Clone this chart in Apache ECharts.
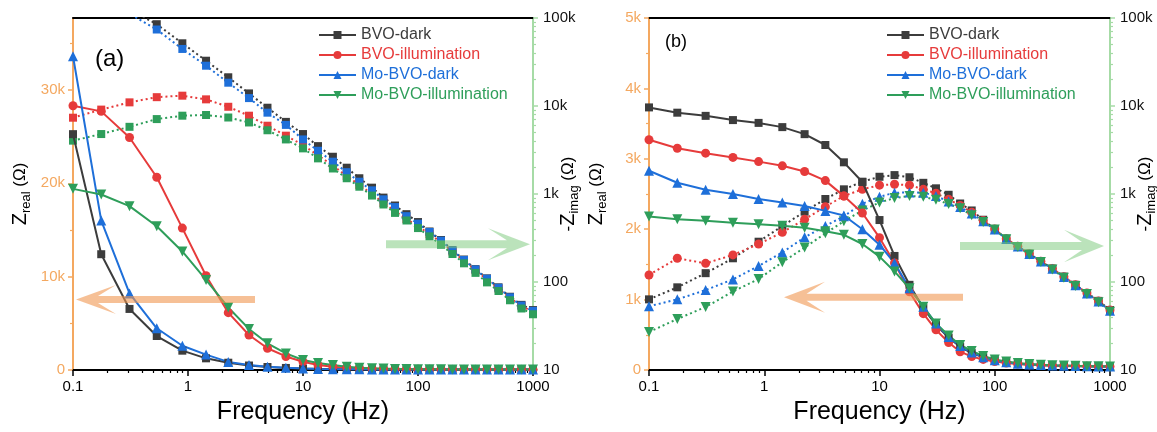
<!DOCTYPE html>
<html><head><meta charset="utf-8">
<script src="https://cdn.jsdelivr.net/npm/echarts@6/dist/echarts.min.js"></script>
<style>html,body{margin:0;padding:0;background:#fff}#c{width:1157px;height:432px}</style>
</head><body><div id="c"></div>
<script>
// ---- data ----
const freq = [0.1, 0.176, 0.31, 0.535, 0.893, 1.435, 2.24, 3.39, 4.91, 7.1,
  10, 13.5, 18.2, 24, 30.9, 39.8, 50.1, 63.1, 79.4, 100,
  125.9, 158.5, 199.5, 251.2, 316.2, 398.1, 501.2, 631, 794.3, 1000];
const seriesNames = ['BVO-dark', 'BVO-illumination', 'Mo-BVO-dark', 'Mo-BVO-illumination'];

// panel (a): Z_real
const aBvoDarkRe = [25260, 12400, 6540, 3640, 2070, 1250, 780, 480, 320, 220, 160, 125, 105, 90, 80, 72, 66, 62, 58, 56, 54, 52, 51, 50, 49, 48, 48, 47, 47, 46];
const aBvoIllRe = [28300, 27700, 24900, 20650, 15200, 10100, 6140, 3750, 2330, 1450, 890, 540, 360, 250, 190, 150, 120, 100, 85, 75, 68, 62, 58, 55, 53, 51, 50, 49, 48, 47];
const aMoDarkRe = [33600, 16000, 8200, 4470, 2600, 1650, 870, 540, 360, 230, 150, 110, 90, 78, 70, 64, 60, 57, 55, 53, 52, 51, 50, 49, 48, 48, 47, 47, 46, 46];
const aMoIllRe = [19400, 18800, 17550, 15400, 12700, 9650, 6700, 4400, 2860, 1780, 1070, 760, 540, 360, 250, 190, 150, 120, 100, 85, 75, 68, 62, 58, 55, 53, 51, 50, 49, 48];
// panel (a): -Z_imag
const aBvoDarkIm = [450000, 230000, 125000, 85000, 51600, 32700, 21200, 13900, 9560, 6600, 4800, 3500, 2650, 1990, 1510, 1180, 910, 740, 590, 480, 375, 300, 230, 180, 140, 110, 87, 68, 55, 48];
const aBvoIllIm = [7360, 9100, 11000, 12600, 13100, 11900, 9800, 7760, 5970, 4600, 3600, 2750, 2100, 1600, 1270, 1000, 790, 640, 520, 430, 350, 285, 222, 174, 136, 106, 84, 66, 53, 46];
const aMoDarkIm = [380000, 200000, 112000, 74000, 44500, 28700, 18400, 12300, 8400, 6100, 4170, 3100, 2330, 1770, 1380, 1100, 870, 710, 560, 460, 370, 295, 228, 178, 139, 109, 86, 67, 54, 47];
const aMoIllIm = [4040, 4800, 5800, 7100, 7760, 7900, 7400, 6500, 5300, 4170, 3300, 2540, 1950, 1510, 1210, 960, 760, 610, 500, 410, 330, 265, 208, 163, 127, 99, 79, 62, 50, 43];

// panel (b): Z_real
const bBvoDarkRe = [3730, 3655, 3610, 3550, 3510, 3450, 3350, 3196, 2950, 2670, 2130, 1620, 1210, 880, 640, 460, 330, 240, 180, 140, 110, 90, 78, 70, 64, 60, 56, 53, 50, 48];
const bBvoIllRe = [3270, 3150, 3080, 3020, 2960, 2900, 2820, 2690, 2470, 2230, 1880, 1520, 1110, 800, 570, 390, 260, 190, 150, 120, 100, 85, 75, 68, 62, 58, 55, 52, 50, 48];
const bMoDarkRe = [2830, 2660, 2560, 2500, 2430, 2380, 2330, 2260, 2195, 2000, 1780, 1520, 1160, 900, 660, 470, 340, 250, 180, 140, 110, 90, 78, 70, 64, 60, 56, 53, 50, 48];
const bMoIllRe = [2180, 2140, 2120, 2090, 2070, 2050, 2020, 1970, 1920, 1790, 1610, 1400, 1160, 900, 660, 490, 355, 270, 200, 150, 120, 98, 84, 75, 68, 63, 59, 55, 52, 50];
// panel (b): -Z_imag
const bBvoDarkIm = [63.5, 87, 126, 186, 287, 432, 630, 877, 1130, 1380, 1570, 1640, 1550, 1340, 1160, 980, 780, 650, 510, 400, 310, 255, 210, 172, 142, 115, 93, 75, 61, 48];
const bBvoIllIm = [120, 186, 163, 203, 270, 367, 515, 718, 950, 1130, 1260, 1290, 1260, 1130, 1020, 870, 740, 620, 500, 400, 310, 255, 210, 172, 142, 115, 93, 75, 61, 48];
const bMoDarkIm = [53, 63.5, 81, 107, 152, 217, 322, 433, 560, 775, 930, 1035, 1040, 1035, 950, 820, 710, 600, 490, 395, 308, 253, 208, 171, 141, 114, 92, 74, 60, 47];
const bMoIllIm = [27, 38, 52, 78, 108, 168, 246, 357, 490, 650, 800, 900, 950, 930, 860, 770, 690, 575, 480, 395, 306, 250, 206, 169, 139, 112, 90, 73, 59, 46];

// ---- tick values ----
const leftTicksA = [0, 10000, 20000, 30000];
const leftMinorA = [5000, 15000, 25000, 35000];
const leftMaxA = 37700;
const leftTicksB = [0, 1000, 2000, 3000, 4000, 5000];
const leftMinorB = [500, 1500, 2500, 3500, 4500];
const leftMaxB = 5000;
const xMinorTicks = [];
[0.1, 1, 10, 100].forEach(d => { for (let k = 2; k <= 9; k++) xMinorTicks.push(+(k * d).toPrecision(3)); });
const yMinorTicks = [];
[10, 100, 1000, 10000].forEach(d => { for (let k = 2; k <= 9; k++) yMinorTicks.push(k * d); });

// ---- styles ----
const COL = ['#3c3c3c', '#e63b3b', '#1e6fd9', '#2e9e5a'];
const SYM = ['rect', 'circle', 'triangle', 'triangle'];
const ROT = [0, 0, 0, 180];
const ORANGE = '#f4a860';
const GREEN_AX = '#a6dba6';
const FONT = 'Arial';

const nameRich = {
  b: { fontSize: 20, lineHeight: 26, color: '#000', fontFamily: FONT },
  s: { fontSize: 13, lineHeight: 14, verticalAlign: 'bottom', color: '#000', fontFamily: FONT },
  u: { fontSize: 17, lineHeight: 26, color: '#000', fontFamily: FONT }
};

const kfmt = v => { v = +v; if (v === 0) return '0'; return v >= 1000 ? (+(v / 1000).toPrecision(3)) + 'k' : String(+v.toPrecision(3)); };

function xAxes(g) {
  return [
    { type: 'log', gridIndex: g, min: 0.1, max: 1000, position: 'bottom',
      axisLine: { onZero: false, lineStyle: { color: '#000', width: 2 } },
      axisTick: { show: true, length: 6, lineStyle: { color: '#000', width: 1.5 } },
      axisLabel: { color: '#000', fontSize: 15, fontFamily: FONT, margin: 9, formatter: v => String(+(+v).toPrecision(3)) },
      splitLine: { show: false }, minorTick: { show: false },
      name: 'Frequency (Hz)', nameLocation: 'middle', nameGap: 30, nameMoveOverlap: false,
      nameTextStyle: { fontSize: 25, color: '#000', fontFamily: FONT } },
    { type: 'log', gridIndex: g, min: 0.1, max: 1000, position: 'bottom',
      axisLine: { show: false, onZero: false },
      axisTick: { show: true, length: 3, customValues: xMinorTicks, lineStyle: { color: '#000', width: 1.2 } },
      axisLabel: { show: false }, splitLine: { show: false } },
    { type: 'log', gridIndex: g, min: 0.1, max: 1000, position: 'top',
      axisLine: { show: true, onZero: false, lineStyle: { color: '#000', width: 2 } },
      axisTick: { show: false }, axisLabel: { show: false }, splitLine: { show: false } }
  ];
}
function yAxes(g, max, ticks, minors) {
  return [
    { type: 'value', gridIndex: g, min: 0, max: max, position: 'left',
      axisLine: { show: true, onZero: false, lineStyle: { color: ORANGE, width: 2 } },
      axisTick: { show: true, length: 5, customValues: ticks, lineStyle: { color: ORANGE, width: 1.5 } },
      axisLabel: { show: true, customValues: ticks, color: ORANGE, fontSize: 15, fontFamily: FONT, margin: 8, formatter: kfmt },
      splitLine: { show: false },
      name: '{b|Z}{s|real}{u| (Ω)}', nameLocation: 'middle', nameRotate: 90, nameGap: 40, nameMoveOverlap: false,
      nameTextStyle: { rich: nameRich } },
    { type: 'value', gridIndex: g, min: 0, max: max, position: 'left',
      axisLine: { show: false, onZero: false },
      axisTick: { show: true, length: 3, customValues: minors, lineStyle: { color: ORANGE, width: 1.2 } },
      axisLabel: { show: false }, splitLine: { show: false } },
    { type: 'log', gridIndex: g, min: 10, max: 100000, position: 'right',
      axisLine: { show: true, onZero: false, lineStyle: { color: GREEN_AX, width: 2 } },
      axisTick: { show: true, length: 5, lineStyle: { color: GREEN_AX, width: 1.5 } },
      axisLabel: { show: true, color: '#111', fontSize: 15, fontFamily: FONT, margin: 10, formatter: kfmt },
      splitLine: { show: false }, minorTick: { show: false },
      name: '{u|-}{b|Z}{s|imag}{u| (Ω)}', nameLocation: 'middle', nameRotate: 90, nameGap: 22, nameMoveOverlap: false,
      nameTextStyle: { rich: nameRich } },
    { type: 'log', gridIndex: g, min: 10, max: 100000, position: 'right',
      axisLine: { show: false, onZero: false },
      axisTick: { show: true, length: 3, customValues: yMinorTicks, lineStyle: { color: GREEN_AX, width: 1.2 } },
      axisLabel: { show: false }, splitLine: { show: false } }
  ];
}

function mk(i, vals, xi, yi, dotted, allSquare) {
  return {
    type: 'line', name: seriesNames[i], xAxisIndex: xi, yAxisIndex: yi,
    data: freq.map((f, k) => [f, vals[k]]),
    symbol: allSquare ? 'rect' : SYM[i], symbolRotate: allSquare ? 0 : ROT[i],
    symbolSize: (allSquare || SYM[i] === 'rect') ? 8 : (SYM[i] === 'circle' ? 9 : 10),
    showAllSymbol: true, clip: true,
    lineStyle: { color: COL[i], width: 2, type: dotted ? [2, 3] : 'solid' },
    itemStyle: { color: COL[i] }, z: dotted ? 2 : 3
  };
}

const series = [
  mk(0, aBvoDarkRe, 0, 0, false), mk(1, aBvoIllRe, 0, 0, false), mk(2, aMoDarkRe, 0, 0, false), mk(3, aMoIllRe, 0, 0, false),
  mk(0, aBvoDarkIm, 0, 2, true, true), mk(1, aBvoIllIm, 0, 2, true, true), mk(2, aMoDarkIm, 0, 2, true, true), mk(3, aMoIllIm, 0, 2, true, true),
  mk(0, bBvoDarkRe, 3, 4, false), mk(1, bBvoIllRe, 3, 4, false), mk(2, bMoDarkRe, 3, 4, false), mk(3, bMoIllRe, 3, 4, false),
  mk(0, bBvoDarkIm, 3, 6, true), mk(1, bBvoIllIm, 3, 6, true), mk(2, bMoDarkIm, 3, 6, true), mk(3, bMoIllIm, 3, 6, true)
];

function legend(left) {
  return {
    orient: 'vertical', left: left, top: 27, padding: 0, itemGap: 4, itemWidth: 37, itemHeight: 10,
    textStyle: { fontSize: 16, fontFamily: FONT },
    data: seriesNames.map((n, i) => ({ name: n, textStyle: { color: COL[i] } })),
    selectedMode: false
  };
}

function arrow(tipX, y, tailX, headLen, halfW, barHalf, fill) {
  const d = tailX > tipX ? 1 : -1;
  const bx = tipX + d * headLen, nx = tipX + d * headLen * 0.55;
  return { type: 'polygon', z: 50, silent: true,
    shape: { points: [[tipX, y], [bx, y - halfW], [nx, y - barHalf], [tailX, y - barHalf], [tailX, y + barHalf], [nx, y + barHalf], [bx, y + halfW]] },
    style: { fill: fill } };
}
const ORANGE_ARROW = 'rgba(240,150,80,0.6)';
const GREEN_ARROW = 'rgba(120,200,120,0.5)';

const chart = echarts.init(document.getElementById('c'), null, { renderer: 'canvas' });
chart.setOption({
  animation: false,
  backgroundColor: '#fff',
  textStyle: { fontFamily: FONT },
  grid: [
    { left: 73, top: 18, width: 460, height: 352, outerBoundsMode: 'none' },
    { left: 649, top: 18, width: 461, height: 352, outerBoundsMode: 'none' }
  ],
  xAxis: [...xAxes(0), ...xAxes(1)],
  yAxis: [...yAxes(0, leftMaxA, leftTicksA, leftMinorA), ...yAxes(1, leftMaxB, leftTicksB, leftMinorB)],
  legend: [legend(318), legend(886)],
  series: series,
  graphic: [
    { type: 'text', x: 95, y: 59, z: 50, style: { text: '(a)', fontSize: 24, fontFamily: FONT, fill: '#000', verticalAlign: 'middle' } },
    { type: 'text', x: 665, y: 42, z: 50, style: { text: '(b)', fontSize: 18, fontFamily: FONT, fill: '#000', verticalAlign: 'middle' } },
    arrow(76, 299.5, 255, 40, 14.5, 3.5, ORANGE_ARROW),
    arrow(530, 244.3, 386, 42, 16, 4, GREEN_ARROW),
    arrow(784, 297.3, 963, 41, 15.5, 3.5, ORANGE_ARROW),
    arrow(1104, 246, 960, 40, 16.3, 4, GREEN_ARROW)
  ]
});
</script></body></html>
